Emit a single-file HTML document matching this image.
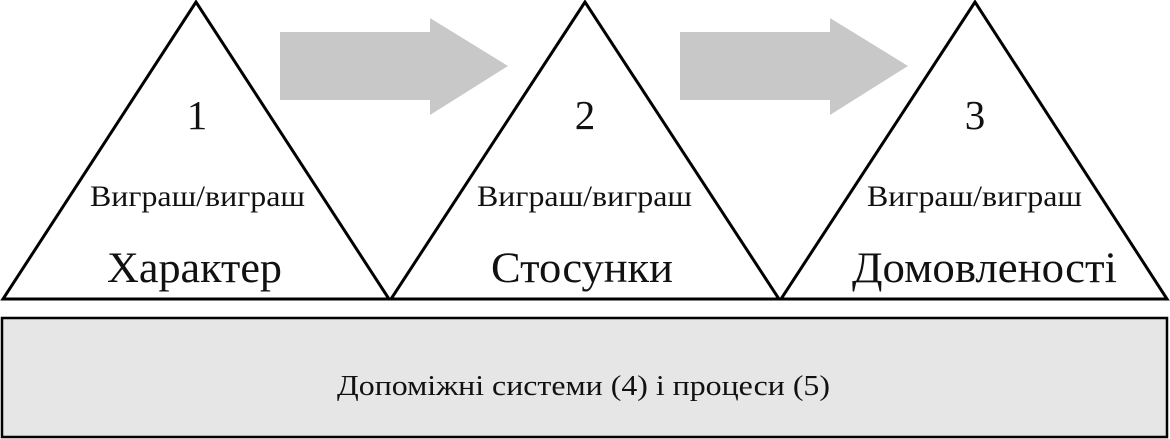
<!DOCTYPE html>
<html><head><meta charset="utf-8"><style>
html,body{margin:0;padding:0;background:#fff;width:1170px;height:439px;overflow:hidden}
text{font-family:"Liberation Serif","DejaVu Serif",serif}
</style></head><body>
<svg width="1170" height="439" viewBox="0 0 1170 439" xmlns="http://www.w3.org/2000/svg">
<polygon points="280,32 430,32 430,18 508,66 430,115 430,100 280,100" fill="#c8c8c8"/>
<polygon points="680,32 830,32 830,18 908,66 830,115 830,100 680,100" fill="#c8c8c8"/>
<g fill="none" stroke="#000" stroke-width="3" stroke-linejoin="miter">
<polygon points="196,2 3,299 389,299"/>
<polygon points="585,2 391,299 779,299"/>
<polygon points="975,2 781,299 1167,299"/>
</g>
<rect x="2" y="318" width="1165" height="119" fill="#e6e6e6" stroke="#000" stroke-width="2.5"/>
<g fill="#111">
<text x="197" y="129" font-size="41" text-anchor="middle">1</text>
<text x="585" y="129" font-size="41" text-anchor="middle">2</text>
<text x="975" y="129" font-size="41" text-anchor="middle">3</text>
<text x="90" y="206" font-size="30" textLength="215" lengthAdjust="spacingAndGlyphs">Виграш/виграш</text>
<text x="477" y="206" font-size="30" textLength="215" lengthAdjust="spacingAndGlyphs">Виграш/виграш</text>
<text x="867" y="206" font-size="30" textLength="215" lengthAdjust="spacingAndGlyphs">Виграш/виграш</text>
<text x="107" y="282" font-size="43" textLength="175" lengthAdjust="spacingAndGlyphs">Характер</text>
<text x="491" y="282" font-size="43" textLength="182" lengthAdjust="spacingAndGlyphs">Стосунки</text>
<text x="852" y="282" font-size="43" textLength="265" lengthAdjust="spacingAndGlyphs">Домовленості</text>
<text x="337" y="395" font-size="28" textLength="493" lengthAdjust="spacingAndGlyphs">Допоміжні системи (4) і процеси (5)</text>
</g>
</svg>
</body></html>
